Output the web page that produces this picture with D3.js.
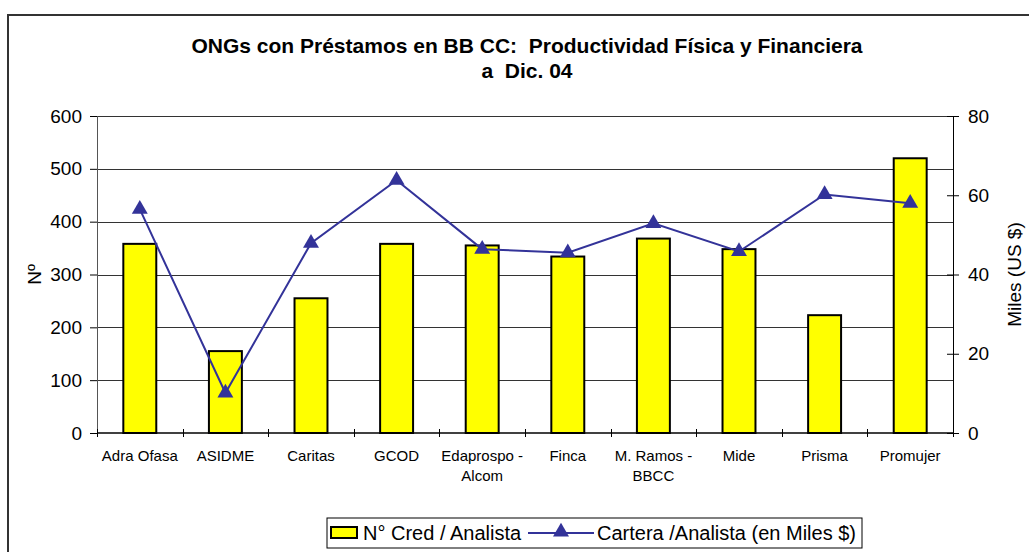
<!DOCTYPE html>
<html>
<head>
<meta charset="utf-8">
<script src="https://cdn.jsdelivr.net/npm/d3@7"></script>
<style>
	body { margin: 0; background: #fff; }
	text { font-family: Arial, "Liberation Sans", sans-serif; fill: #000; white-space: pre; }
</style>
</head>
<body>
<div id="chart-area"></div>
<script>
// categories (x axis), "\n" = line break
const categories = ["Adra Ofasa", "ASIDME", "Caritas", "GCOD", "Edaprospo -\nAlcom", "Finca",
	"M. Ramos -\nBBCC", "Mide", "Prisma", "Promujer"];

// N° Cred / Analista (left axis)
const credPerAnalyst = [358, 155, 255, 358, 355, 334, 368, 348, 223, 520];

// Cartera /Analista (en Miles $) (right axis)
const carteraPerAnalyst = [56.5, 10.1, 47.9, 63.8, 46.4, 45.5, 52.9, 45.8, 60.2, 58.0];

const leftTicks = [0, 100, 200, 300, 400, 500, 600];
const rightTicks = [0, 20, 40, 60, 80];

const titleLines = ["ONGs con Préstamos en BB CC:  Productividad Física y Financiera", "a  Dic. 04"];

// sizes
const W = 1029, H = 552;
const m = {left: 97, right: 953, top: 116, bottom: 433};

let svg = d3.select("#chart-area").append("svg")
	.attr("width", W)
	.attr("height", H);

// outer chart border (runs off the right and bottom edge)
svg.append("rect")
	.attr("x", 8).attr("y", 15)
	.attr("width", 1060).attr("height", 600)
	.attr("fill", "none")
	.attr("stroke", "#333")
	.attr("stroke-width", 2);

// title
svg.append("g").selectAll("text")
	.data(titleLines)
	.enter()
	.append("text")
	.attr("x", 527)
	.attr("y", (d, i) => 53 + i * 25)
	.attr("text-anchor", "middle")
	.attr("xml:space", "preserve")
	.style("font-size", "21px")
	.style("font-weight", "bold")
	.text(d => d);

// scales
let x = d3.scaleBand()
	.domain(categories)
	.range([m.left, m.right])
	.padding(0);

let yLeft = d3.scaleLinear()
	.domain([0, 600])
	.range([m.bottom, m.top]);

let yRight = d3.scaleLinear()
	.domain([0, 80])
	.range([m.bottom, m.top]);

// gridlines
svg.append("g").selectAll("line")
	.data(leftTicks.filter(d => d > 0))
	.enter()
	.append("line")
	.attr("x1", m.left).attr("x2", m.right)
	.attr("y1", d => Math.round(yLeft(d)) + 0.5)
	.attr("y2", d => Math.round(yLeft(d)) + 0.5)
	.attr("stroke", "#333")
	.attr("stroke-width", 1);

// bars
let barW = x.bandwidth() * 0.385;
svg.append("g").selectAll("rect")
	.data(credPerAnalyst)
	.enter()
	.append("rect")
	.attr("x", (d, i) => x(categories[i]) + x.bandwidth() / 2 - barW / 2)
	.attr("y", d => yLeft(d))
	.attr("width", barW)
	.attr("height", d => m.bottom - yLeft(d))
	.attr("fill", "#FFFF00")
	.attr("stroke", "#000")
	.attr("stroke-width", 2);

// left axis
let yAxisL = d3.axisLeft(yLeft)
	.tickValues(leftTicks)
	.tickSize(7)
	.tickPadding(8);

let gL = svg.append("g")
	.attr("transform", "translate(" + m.left + ",0)")
	.call(yAxisL);
gL.select(".domain").attr("stroke", "#555");
gL.selectAll("text").style("font-size", "19px");

// right axis (ticks cross the axis)
let yAxisR = d3.axisRight(yRight)
	.tickValues(rightTicks)
	.tickSize(6)
	.tickPadding(9);

let gR = svg.append("g")
	.attr("transform", "translate(" + m.right + ",0)")
	.call(yAxisR);
gR.selectAll(".tick line").attr("x1", -6);
gR.selectAll("text").style("font-size", "19px");

// x axis, ticks between categories, crossing the axis
let xTickPos = d3.range(categories.length + 1).map(i => m.left + i * x.step());
let gX = svg.append("g").attr("class", "x axis");
gX.append("line")
	.attr("x1", m.left).attr("x2", m.right)
	.attr("y1", m.bottom).attr("y2", m.bottom)
	.attr("stroke", "#000").attr("stroke-width", 1.5);
gX.selectAll(".xtick")
	.data(xTickPos)
	.enter()
	.append("line")
	.attr("class", "xtick")
	.attr("x1", d => Math.round(d) + 0.5).attr("x2", d => Math.round(d) + 0.5)
	.attr("y1", m.bottom - 4).attr("y2", m.bottom + 4)
	.attr("stroke", "#000");

gX.selectAll(".xlabel")
	.data(categories)
	.enter()
	.append("text")
	.attr("class", "xlabel")
	.attr("text-anchor", "middle")
	.attr("x", d => x(d) + x.bandwidth() / 2)
	.attr("y", 461)
	.style("font-size", "15px")
	.each(function(d) {
		d.split("\n").forEach((line, i) => {
			d3.select(this).append("tspan")
				.attr("x", x(d) + x.bandwidth() / 2)
				.attr("dy", i === 0 ? 0 : 20)
				.text(line);
		});
	});

// axis titles
svg.append("text")
	.attr("transform", "translate(41," + (m.top + m.bottom) / 2 + ") rotate(-90)")
	.attr("text-anchor", "middle")
	.style("font-size", "19px")
	.text("Nº");

svg.append("text")
	.attr("transform", "translate(1021," + (m.top + m.bottom) / 2 + ") rotate(-90)")
	.attr("text-anchor", "middle")
	.style("font-size", "19px")
	.text("Miles (US $)");

// line series
const lineColor = "#333399";
let line = d3.line()
	.x((d, i) => x(categories[i]) + x.bandwidth() / 2)
	.y(d => yRight(d));

svg.append("path")
	.datum(carteraPerAnalyst)
	.attr("d", line)
	.attr("fill", "none")
	.attr("stroke", lineColor)
	.attr("stroke-width", 2);

let tri = d3.symbol().type(d3.symbolTriangle).size(110);
svg.append("g").selectAll("path")
	.data(carteraPerAnalyst)
	.enter()
	.append("path")
	.attr("d", tri)
	.attr("transform", (d, i) => "translate(" + (x(categories[i]) + x.bandwidth() / 2) + "," + yRight(d) + ")")
	.attr("fill", lineColor);

// legend
let legend = svg.append("g").attr("class", "legend");
legend.append("rect")
	.attr("x", 327).attr("y", 518)
	.attr("width", 535).attr("height", 30)
	.attr("fill", "#fff")
	.attr("stroke", "#000")
	.attr("stroke-width", 1);
legend.append("rect")
	.attr("x", 331).attr("y", 527)
	.attr("width", 26).attr("height", 11)
	.attr("fill", "#FFFF00")
	.attr("stroke", "#000")
	.attr("stroke-width", 2);
legend.append("text")
	.attr("x", 363).attr("y", 540)
	.style("font-size", "20px")
	.text("N° Cred / Analista");
legend.append("line")
	.attr("x1", 528).attr("x2", 594)
	.attr("y1", 533).attr("y2", 533)
	.attr("stroke", lineColor).attr("stroke-width", 2);
legend.append("path")
	.attr("d", tri)
	.attr("transform", "translate(561,532)")
	.attr("fill", lineColor);
legend.append("text")
	.attr("x", 597).attr("y", 540)
	.style("font-size", "20px")
	.text("Cartera /Analista (en Miles $)");
</script>
</body>
</html>
